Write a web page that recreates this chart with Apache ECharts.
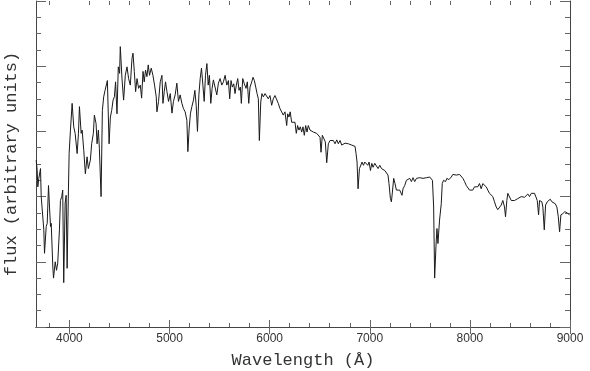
<!DOCTYPE html>
<html>
<head>
<meta charset="utf-8">
<script src="https://cdn.jsdelivr.net/npm/echarts@6.0.0/dist/echarts.min.js"></script>
<style>
  html, body { margin: 0; padding: 0; background: #fff; }
  #main { width: 590px; height: 371px; }
</style>
</head>
<body>
<div id="main"></div>
<script>
// spectrum: wavelength in Angstrom, flux in axis units (0..5)
const wavelength = [
  3668, 3678, 3684, 3694, 3711, 3718, 3744, 3751, 3768, 3778,
  3791, 3801, 3811, 3818, 3834, 3841, 3858, 3871, 3883, 3900,
  3910, 3923, 3933, 3943, 3957, 3967, 3977, 3990, 3997, 4010,
  4027, 4043, 4057, 4077, 4090, 4100, 4117, 4127, 4143, 4159,
  4176, 4189, 4209, 4222, 4239, 4249, 4266, 4276, 4289, 4299,
  4316, 4329, 4342, 4356, 4379, 4396, 4409, 4422, 4436, 4449,
  4461, 4475, 4488, 4501, 4508, 4525, 4541, 4558, 4575, 4591,
  4608, 4625, 4635, 4648, 4661, 4675, 4691, 4708, 4721, 4735,
  4747, 4760, 4774, 4787, 4800, 4817, 4834, 4850, 4867, 4874,
  4890, 4907, 4924, 4934, 4947, 4960, 4974, 4990, 5007, 5024,
  5039, 5056, 5073, 5089, 5106, 5123, 5139, 5156, 5173, 5183,
  5196, 5209, 5223, 5239, 5253, 5266, 5279, 5293, 5306, 5319,
  5333, 5346, 5359, 5373, 5386, 5398, 5412, 5425, 5438, 5455,
  5472, 5488, 5505, 5522, 5538, 5555, 5572, 5588, 5601, 5614,
  5627, 5641, 5654, 5667, 5681, 5694, 5707, 5717, 5731, 5747,
  5764, 5777, 5791, 5804, 5821, 5834, 5847, 5861, 5874, 5887,
  5897, 5911, 5923, 5937, 5954, 5971, 5986, 6003, 6020, 6036,
  6053, 6070, 6086, 6103, 6120, 6136, 6153, 6170, 6180, 6193,
  6205, 6220, 6236, 6253, 6266, 6279, 6293, 6306, 6320, 6333,
  6346, 6360, 6373, 6386, 6403, 6420, 6436, 6453, 6470, 6486,
  6503, 6513, 6526, 6543, 6556, 6570, 6586, 6603, 6620, 6636,
  6653, 6670, 6686, 6703, 6720, 6736, 6753, 6770, 6786, 6803,
  6820, 6836, 6853, 6863, 6873, 6883, 6897, 6910, 6923, 6937,
  6950, 6967, 6980, 6993, 7007, 7020, 7033, 7050, 7067, 7083,
  7100, 7117, 7133, 7150, 7167, 7182, 7192, 7206, 7216, 7226,
  7239, 7252, 7266, 7282, 7299, 7312, 7322, 7332, 7349, 7366,
  7382, 7399, 7416, 7432, 7449, 7466, 7482, 7499, 7516, 7532,
  7549, 7566, 7582, 7599, 7616, 7626, 7638, 7648, 7661, 7671,
  7681, 7697, 7714, 7724, 7737, 7757, 7770, 7790, 7814, 7830,
  7847, 7864, 7880, 7897, 7914, 7930, 7947, 7964, 7979, 7996,
  8013, 8029, 8046, 8063, 8079, 8096, 8113, 8129, 8146, 8163,
  8179, 8196, 8213, 8229, 8246, 8263, 8279, 8296, 8313, 8329,
  8346, 8356, 8369, 8379, 8396, 8413, 8429, 8446, 8463, 8479,
  8496, 8513, 8529, 8546, 8563, 8579, 8596, 8613, 8629, 8646,
  8663, 8673, 8686, 8696, 8706, 8719, 8729, 8743, 8756, 8773,
  8789, 8803, 8819, 8836, 8853, 8869, 8883, 8896, 8909, 8929,
  8949, 8966, 8979, 8996
];

const flux = [
  2.56, 2.40, 2.15, 2.28, 2.43, 2.00, 1.49, 1.13, 1.54, 1.59,
  2.17, 1.84, 1.54, 1.59, 0.92, 0.75, 1.00, 0.87, 0.98, 1.49,
  1.94, 2.00, 2.10, 0.68, 1.90, 2.02, 0.90, 2.10, 2.66, 3.02,
  3.43, 3.07, 2.97, 2.66, 2.97, 3.38, 2.97, 3.02, 2.71, 2.35,
  2.61, 2.43, 2.56, 2.81, 2.97, 3.25, 3.12, 2.81, 3.02, 2.74,
  2.00, 3.32, 3.53, 3.63, 3.78, 2.81, 3.22, 3.32, 3.48, 3.53,
  3.76, 3.27, 3.99, 3.89, 4.30, 3.81, 3.48, 3.86, 3.99, 3.81,
  3.71, 4.12, 4.20, 3.92, 3.61, 3.81, 3.66, 3.71, 3.51, 3.92,
  3.76, 3.94, 3.84, 4.02, 3.86, 3.97, 3.86, 3.71, 3.53, 3.30,
  3.46, 3.76, 3.86, 3.43, 3.61, 3.76, 3.61, 3.46, 3.58, 3.28,
  3.46, 3.56, 3.74, 3.46, 3.56, 3.43, 3.35, 3.30, 3.17, 2.69,
  3.05, 3.28, 3.38, 3.48, 3.63, 3.40, 3.00, 3.56, 3.81, 3.97,
  3.71, 3.46, 3.86, 4.04, 3.71, 3.86, 3.43, 3.66, 3.79, 3.76,
  3.56, 3.74, 3.81, 3.71, 3.76, 3.86, 3.71, 3.78, 3.50, 3.78,
  3.68, 3.73, 3.58, 3.71, 3.81, 3.63, 3.68, 3.43, 3.81, 3.73,
  3.66, 3.76, 3.43, 3.68, 3.76, 3.83, 3.78, 3.68, 3.58, 3.50,
  2.86, 3.45, 3.58, 3.53, 3.58, 3.55, 3.50, 3.55, 3.40, 3.50,
  3.55, 3.53, 3.43, 3.35, 3.32, 3.25, 3.30, 3.09, 3.27, 3.22,
  3.30, 3.14, 3.12, 3.14, 2.97, 3.09, 3.02, 3.07, 2.99, 3.07,
  2.94, 3.09, 2.99, 3.09, 3.02, 3.02, 2.99, 3.02, 2.97, 2.94,
  2.91, 2.68, 2.94, 2.91, 2.84, 2.52, 2.81, 2.86, 2.84, 2.86,
  2.81, 2.87, 2.81, 2.86, 2.79, 2.76, 2.82, 2.79, 2.81, 2.79,
  2.79, 2.76, 2.77, 2.66, 2.53, 2.12, 2.43, 2.45, 2.53, 2.48,
  2.53, 2.56, 2.48, 2.53, 2.40, 2.51, 2.45, 2.51, 2.48, 2.43,
  2.48, 2.43, 2.40, 2.40, 2.38, 2.33, 2.20, 1.97, 1.92, 2.07,
  2.28, 2.20, 2.10, 2.12, 2.10, 2.12, 2.02, 2.12, 2.17, 2.25,
  2.23, 2.28, 2.23, 2.29, 2.23, 2.28, 2.25, 2.29, 2.26, 2.28,
  2.26, 2.29, 2.27, 2.30, 2.28, 2.25, 1.84, 0.75, 1.23, 1.51,
  1.28, 1.64, 1.89, 2.20, 2.25, 2.23, 2.28, 2.26, 2.30, 2.34,
  2.31, 2.33, 2.30, 2.34, 2.33, 2.28, 2.23, 2.17, 2.15, 2.10,
  2.12, 2.10, 2.15, 2.17, 2.15, 2.20, 2.12, 2.20, 2.17, 2.15,
  2.10, 2.05, 2.05, 2.00, 1.92, 1.84, 1.80, 1.82, 1.87, 1.94,
  1.84, 1.69, 1.94, 2.05, 2.02, 1.94, 1.97, 1.94, 1.92, 1.97,
  2.00, 2.00, 2.02, 1.99, 2.02, 2.04, 2.00, 2.05, 2.07, 2.05,
  2.07, 1.94, 1.72, 1.94, 1.97, 1.92, 1.84, 1.49, 1.87, 1.92,
  1.94, 1.96, 1.92, 1.89, 1.89, 1.84, 1.69, 1.46, 1.72, 1.74,
  1.77, 1.79, 1.74, 1.72
];

// axis ranges and tick positions
const xRange = [3666, 9000];
const yRange = [0, 5];
const xMajorTicks = [4000, 5000, 6000, 7000, 8000, 9000];
const xMinorTicks = [3800, 4200, 4400, 4600, 4800, 5200, 5400, 5600, 5800,
  6200, 6400, 6600, 6800, 7200, 7400, 7600, 7800, 8200, 8400, 8600, 8800];

const chart = echarts.init(document.getElementById('main'));

const box = { left: 36, right: 20, top: 1, bottom: 44, outerBoundsMode: 'none' };
const lineCol = '#444';
const tickCol = '#666';
const titleFont = 'Liberation Mono';

function xAx(grid, pos, ticks, len, extra) {
  return Object.assign({
    type: 'value', gridIndex: grid, position: pos,
    min: xRange[0], max: xRange[1],
    axisLine: { show: grid === 0, lineStyle: { color: lineCol, width: 1 } },
    axisTick: { show: true, inside: true, length: len, customValues: ticks,
      lineStyle: { color: tickCol } },
    axisLabel: { show: false },
    splitLine: { show: false }
  }, extra || {});
}

function yAx(pos, extra) {
  return Object.assign({
    type: 'value', gridIndex: 0, position: pos,
    min: yRange[0], max: yRange[1], interval: 1,
    axisLine: { show: true, lineStyle: { color: lineCol, width: 1 } },
    axisTick: { show: true, inside: true, length: 10, lineStyle: { color: tickCol } },
    minorTick: { show: true, splitNumber: 4, length: 5, lineStyle: { color: tickCol } },
    axisLabel: { show: false },
    splitLine: { show: false }
  }, extra || {});
}

chart.setOption({
  animation: false,
  backgroundColor: '#fff',
  grid: [Object.assign({}, box), Object.assign({}, box)],
  xAxis: [
    xAx(0, 'bottom', xMajorTicks, 7, {
      axisLabel: {
        show: true, customValues: xMajorTicks, margin: 6,
        formatter: v => String(v),
        color: '#333', fontSize: 12, fontFamily: 'Liberation Sans'
      },
      name: 'Wavelength (Å)', nameLocation: 'middle', nameGap: 25,
      nameTextStyle: { color: '#333', fontSize: 17, fontFamily: titleFont }
    }),
    xAx(0, 'top', xMajorTicks, 7),
    xAx(1, 'bottom', xMinorTicks, 4),
    xAx(1, 'top', xMinorTicks, 4)
  ],
  yAxis: [
    yAx('left', {
      name: 'flux (arbitrary units)', nameLocation: 'middle', nameGap: 16, nameRotate: 90,
      nameTextStyle: { color: '#333', fontSize: 17, fontFamily: titleFont }
    }),
    yAx('right'),
    { type: 'value', gridIndex: 1, min: yRange[0], max: yRange[1], show: false }
  ],
  series: [{
    type: 'line',
    xAxisIndex: 0,
    yAxisIndex: 0,
    data: wavelength.map((w, i) => [w, flux[i]]),
    showSymbol: false,
    lineStyle: { color: '#1a1a1a', width: 1 },
    silent: true
  }]
});
</script>
</body>
</html>
